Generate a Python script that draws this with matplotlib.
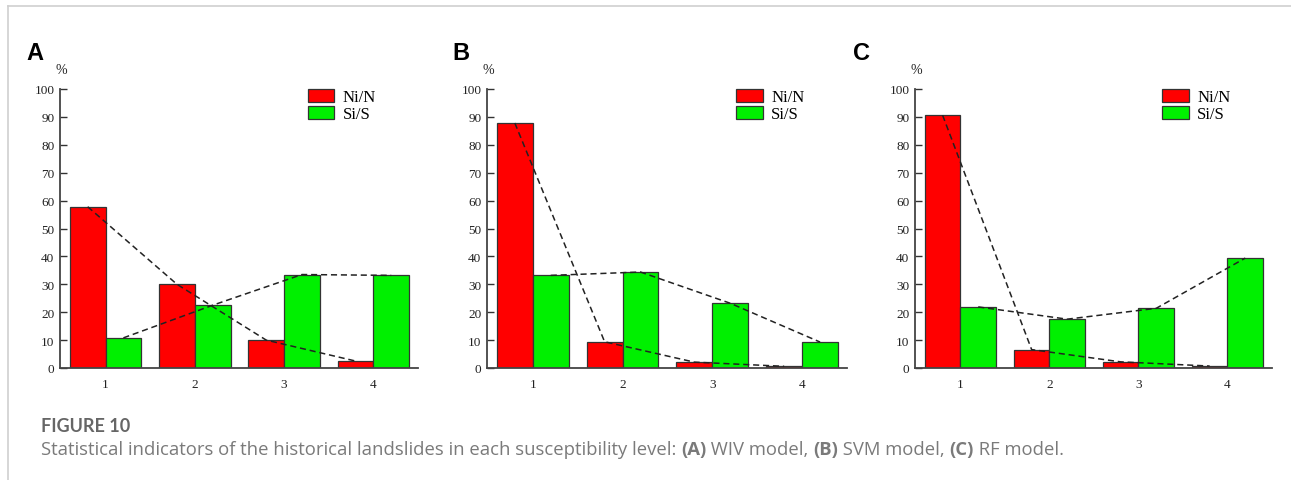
#!/usr/bin/env python3

import numpy as np
import matplotlib
matplotlib.use("Agg")
import matplotlib.pyplot as plt
from matplotlib.lines import Line2D

levels = [1, 2, 3, 4]
panel_labels = ["A", "B", "C"]
legend_labels = ["Ni/N", "Si/S"]

# Ni/N and Si/S (%) per susceptibility level
ni_n = [
    [57.8, 30.0, 10.0, 2.5],   # WIV
    [87.8, 9.4, 2.1, 0.6],     # SVM
    [90.6, 6.6, 2.2, 0.7],     # RF
]
si_s = [
    [10.8, 22.5, 33.5, 33.2],
    [33.2, 34.4, 23.2, 9.3],
    [21.9, 17.5, 21.4, 39.4],
]

caption_title = "FIGURE 10"
caption_parts = [
    ("Statistical indicators of the historical landslides in each susceptibility level: ", "normal"),
    ("(A)", "bold"), (" WIV model, ", "normal"),
    ("(B)", "bold"), (" SVM model, ", "normal"),
    ("(C)", "bold"), (" RF model.", "normal"),
]

serif = ["Liberation Serif", "DejaVu Serif"]
plt.rcParams["font.family"] = serif

W, H = 1291, 481
fig = plt.figure(figsize=(W / 100, H / 100), dpi=100)

# axes boxes in pixels: left, right
boxes = [(60, 418), (487, 847), (915, 1272)]
ax_top, ax_bot = 90, 369
label_x = [26, 452, 853]

bw = 0.4
x = np.array(levels, dtype=float)

for k, (l, r) in enumerate(boxes):
    ax = fig.add_axes([l / W, 1 - ax_bot / H, (r - l) / W, (ax_bot - ax_top) / H])
    ax.bar(x - bw / 2, ni_n[k], bw, color="#ff0000", edgecolor="#333333", linewidth=0.9,
           label=legend_labels[0], zorder=2)
    ax.bar(x + bw / 2, si_s[k], bw, color="#00f000", edgecolor="#333333", linewidth=0.9,
           label=legend_labels[1], zorder=2)
    ax.plot(x - bw / 2, ni_n[k], color="#222222", lw=1.1, dashes=(4, 2.5), zorder=3)
    ax.plot(x + bw / 2, si_s[k], color="#222222", lw=1.1, dashes=(4, 2.5), zorder=3)

    ax.set_xlim(0.49, 4.5)
    ax.set_ylim(0, 100)
    ax.set_yticks(range(0, 101, 10))
    ax.set_xticks(levels)
    ax.tick_params(axis="y", direction="in", length=5, width=1, pad=4, colors="#333333",
                   labelsize=9.5, labelcolor="#222222")
    ax.tick_params(axis="x", length=0, pad=7, labelsize=9.5, labelcolor="#222222")
    for s in ["top", "right"]:
        ax.spines[s].set_visible(False)
    for s in ["left", "bottom"]:
        ax.spines[s].set_color("#444444")
        ax.spines[s].set_linewidth(1.3)

    ax.legend(loc="upper left", bbox_to_anchor=(0.692, 1.0), frameon=False,
              borderpad=0, borderaxespad=0, handlelength=1.6, handleheight=0.8,
              handletextpad=0.5, labelspacing=0.05, prop={"size": 12})

    fig.text((l + 1) / W, 1 - 70 / H, "%", fontsize=10,
             ha="center", va="center", color="#222222")
    fig.text(label_x[k] / W, 1 - 60 / H, panel_labels[k], family="Liberation Sans",
             fontweight="bold", fontsize=17, ha="left", va="baseline")

# outer frame
fig.add_artist(Line2D([8 / W, 8 / W], [0, 1 - 7 / H], color="#cfcfcf", lw=1.2))
fig.add_artist(Line2D([8 / W, 1], [1 - 7 / H, 1 - 7 / H], color="#cfcfcf", lw=1.2))

# caption
fig.text(41 / W, 1 - 432 / H, caption_title, family="Lato", fontweight="bold",
         fontsize=13, color="#666666", va="baseline")

renderer = fig.canvas.get_renderer()
xpos = 41
for txt, wt in caption_parts:
    t = fig.text(xpos / W, 1 - 455 / H, txt, family="Open Sans", fontweight=wt,
                 fontsize=13.3, color="#7a7a7a", va="baseline")
    xpos = t.get_window_extent(renderer).x1

fig.savefig("out.png", dpi=100)
